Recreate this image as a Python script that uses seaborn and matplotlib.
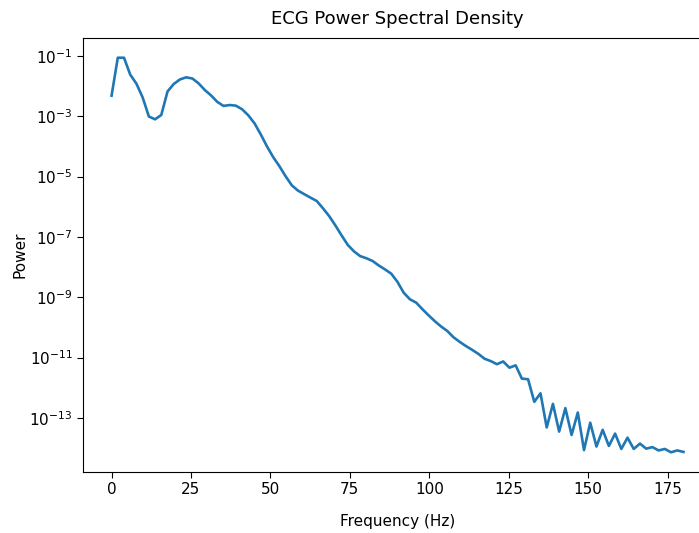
import numpy as np
import pandas as pd
import matplotlib
matplotlib.use("Agg")
import matplotlib.pyplot as plt
import seaborn as sns

# Welch PSD bins: fs = 360 Hz, 93 bins from 0 to Nyquist
freqs = np.linspace(0, 180, 93)

power = [
    4.8e-3, 8.7e-2, 8.7e-2, 2.4e-2, 1.2e-2, 4.2e-3, 9.8e-4, 7.9e-4, 1.1e-3, 6.6e-3,
    1.17e-2, 1.66e-2, 1.95e-2, 1.78e-2, 1.23e-2, 7.4e-3, 4.9e-3, 3.0e-3, 2.2e-3, 2.35e-3,
    2.24e-3, 1.7e-3, 1.07e-3, 5.8e-4, 2.5e-4, 1.0e-4, 4.4e-5, 2.2e-5, 1.02e-5, 5.1e-6,
    3.4e-6, 2.6e-6, 2.0e-6, 1.55e-6, 8.9e-7, 4.9e-7, 2.4e-7, 1.12e-7, 5.4e-8, 3.3e-8,
    2.3e-8, 1.95e-8, 1.58e-8, 1.12e-8, 8.3e-9, 6.0e-9, 3.2e-9, 1.4e-9, 8.5e-10, 6.6e-10,
    4.0e-10, 2.5e-10, 1.6e-10, 1.07e-10, 7.6e-11, 4.7e-11, 3.3e-11, 2.4e-11, 1.8e-11, 1.32e-11,
    9.1e-12, 7.6e-12, 6.0e-12, 7.4e-12, 4.6e-12, 5.5e-12, 2.0e-12, 1.9e-12, 3.4e-13, 6.5e-13,
    4.8e-14, 2.9e-13, 3.5e-14, 2.1e-13, 2.7e-14, 1.5e-13, 8.5e-15, 6.9e-14, 1.12e-14, 4.0e-14,
    1.17e-14, 3.0e-14, 9.3e-15, 2.2e-14, 9.3e-15, 1.4e-14, 9.5e-15, 1.07e-14, 8.3e-15, 9.3e-15,
    7.2e-15, 8.3e-15, 7.4e-15,
]

xticks = [0, 25, 50, 75, 100, 125, 150, 175]
yticks = [1e-1, 1e-3, 1e-5, 1e-7, 1e-9, 1e-11, 1e-13]

df = pd.DataFrame({"Frequency (Hz)": freqs, "Power": power})

fig = plt.figure(figsize=(6.99, 5.33), dpi=100)
ax = fig.add_axes([0.1187, 0.1144, 0.9, 0.8143])

sns.lineplot(data=df, x="Frequency (Hz)", y="Power", ax=ax,
             color="#1f77b4", linewidth=1.9)
ax.set_yscale("log")
ax.set_xticks(xticks)
ax.set_yticks(yticks)
ax.minorticks_off()
ax.tick_params(labelsize=11, length=4)

ax.set_title("ECG Power Spectral Density", fontsize=13, pad=10)
ax.set_xlabel("Frequency (Hz)", fontsize=11, labelpad=12)
ax.set_ylabel("Power", fontsize=11, labelpad=1)

fig.savefig("out.png", dpi=100)
